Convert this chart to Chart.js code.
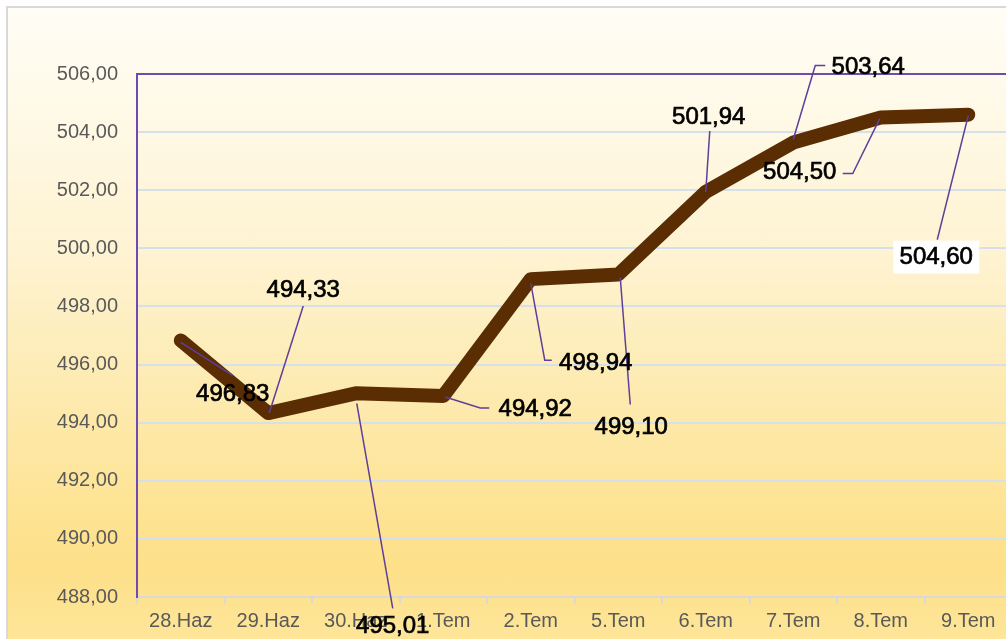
<!DOCTYPE html>
<html>
<head>
<meta charset="utf-8">
<script src="https://cdn.jsdelivr.net/npm/chart.js@4"></script>
<style>
  html, body { margin: 0; padding: 0; width: 1006px; height: 639px; overflow: hidden; background: #fff; }
  #bg {
    position: absolute; left: 6px; top: 6px; width: 1100px; height: 700px;
    border: 2px solid #d9d9d9;
    background: linear-gradient(to bottom, #fffdf6 0%, #fef3d2 35%, #fde393 72%, #fde089 80%, #ffeaa8 100%);
  }
  #wrap { position: absolute; left: 0; top: 0; width: 1020px; height: 639px; }
</style>
</head>
<body>
<div id="bg"></div>
<div id="wrap"><canvas id="priceChart"></canvas></div>
<script>
const labels = ["28.Haz", "29.Haz", "30.Haz", "1.Tem", "2.Tem", "5.Tem", "6.Tem", "7.Tem", "8.Tem", "9.Tem"];
const values = [496.83, 494.33, 495.01, 494.92, 498.94, 499.10, 501.94, 503.64, 504.50, 504.60];

// label placement relative to each point (text centre) and leader-line paths
const labelOffsets = [[52, 53], [35, -124], [37, 232], [92, 12], [65, 83], [13, 152], [3, -76], [75, -76], [-81, 54], [-32, 142]];
const leaders = [
    [[0, 2], [52, 35]],
    [[1, 0], [35, -107]],
    [[1, 10], [37, 215]],
    [[2, 1], [37, 12], [46, 12]],
    [[0, 4], [14, 81], [21, 81]],
    [[2, 3], [12, 130]],
    [[0, 0], [4, -61]],
    [[0, -3], [22, -77], [32, -77]],
    [[-1, 1], [-28, 56], [-38, 56]],
    [[0, 1], [-31, 125]],
];

const purple = "#6d4bb0";
const fmt = v => v.toFixed(2).replace(".", ",");

const labelPlugin = {
    id: "leaderLabels",
    afterDatasetsDraw(chart) {
        const ctx = chart.ctx;
        const pts = chart.getDatasetMeta(0).data;
        ctx.save();
        ctx.strokeStyle = "#5e3f99";
        ctx.lineWidth = 1.5;
        pts.forEach((p, i) => {
            ctx.beginPath();
            leaders[i].forEach(([dx, dy], k) => {
                if (k === 0) ctx.moveTo(p.x + dx, p.y + dy);
                else ctx.lineTo(p.x + dx, p.y + dy);
            });
            ctx.stroke();
        });
        ctx.font = "24px 'Liberation Sans', Arial, sans-serif";
        ctx.textAlign = "center";
        ctx.textBaseline = "middle";
        pts.forEach((p, i) => {
            const x = p.x + labelOffsets[i][0];
            const y = p.y + labelOffsets[i][1];
            if (i === values.length - 1) {
                ctx.fillStyle = "#ffffff";
                ctx.fillRect(x - 43, y - 16, 86, 33);
            }
            ctx.fillStyle = "#000000";
            ctx.strokeStyle = "#000000";
            ctx.lineWidth = 0.7;
            ctx.fillText(fmt(values[i]), x, y + 1);
            ctx.strokeText(fmt(values[i]), x, y + 1);
        });
        ctx.restore();
    }
};

const priceConfig = {
    type: "line",
    data: {
        labels: labels,
        datasets: [
            {
                data: values,
                borderColor: "#5a2d03",
                borderWidth: 14,
                borderCapStyle: "round",
                borderJoinStyle: "round",
                pointRadius: 0,
                tension: 0,
            },
        ],
    },
    options: {
        responsive: true,
        maintainAspectRatio: false,
        animation: false,
        layout: { padding: { top: 74, right: 8, left: 0, bottom: 0 } },
        plugins: {
            legend: { display: false },
            tooltip: { enabled: false },
        },
        scales: {
            x: {
                offset: true,
                grid: {
                    offset: true,
                    drawOnChartArea: false,
                    drawTicks: true,
                    tickLength: 7,
                    color: "#d9d9d9",
                    lineWidth: 2,
                },
                border: { color: "#d9d9d9", width: 2 },
                ticks: {
                    color: "#595959",
                    padding: 5,
                    maxRotation: 0,
                    autoSkip: false,
                    font: { size: 20, family: "'Liberation Sans', Arial, sans-serif" },
                },
                afterFit(scale) { scale.height = 42; },
            },
            y: {
                min: 488,
                max: 506,
                grid: {
                    drawTicks: false,
                    color: ctx => (ctx.tick && ctx.tick.value === 506 ? purple : "#d6e0ea"),
                    lineWidth: 2,
                },
                border: { color: purple, width: 2 },
                ticks: {
                    stepSize: 2,
                    color: "#595959",
                    padding: 19,
                    callback: v => fmt(v),
                    font: { size: 20, family: "'Liberation Sans', Arial, sans-serif" },
                },
                afterFit(scale) { scale.width = 137; },
            },
        },
    },
    plugins: [labelPlugin],
};

const priceChart = new Chart(document.getElementById("priceChart"), priceConfig);
</script>
</body>
</html>
